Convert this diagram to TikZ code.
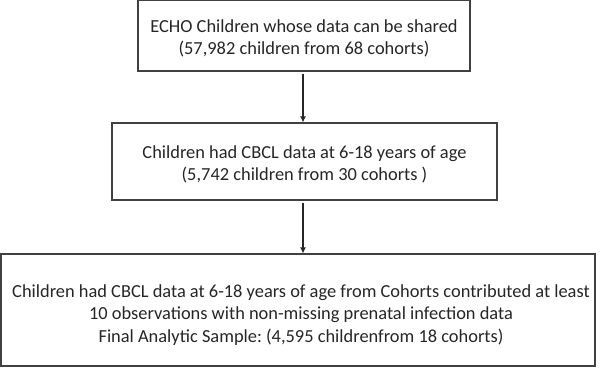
\documentclass[tikz,border=0pt]{standalone}
\usepackage{fontspec}
\setmainfont{Carlito}
\frenchspacing
\usetikzlibrary{arrows.meta}
\begin{document}
\begin{tikzpicture}[
        x=1pt, y=-1pt,
        % --- styles ---
        box/.style={draw=black!75, line width=1.1pt, fill=white},
        txt/.style={text=black!85, align=center, inner sep=0pt,
            font=\fontsize{18.4}{22.5}\selectfont},
        flow/.style={draw=black!85, line width=1.3pt, -{Latex[length=6pt,width=6pt]}}
    ]
    \useasboundingbox (0,0) rectangle (600,368);

    % boxes
    \node[box, minimum width=332pt, minimum height=71pt] (shared) at (304,35.5) {};
    \node[box, minimum width=385pt, minimum height=77pt] (cbcl) at (304.5,161.5) {};
    \node[box, minimum width=594pt, minimum height=112pt] (final) at (298,310) {};

    % texts
    \node[txt] (sharedtxt) at ([yshift=-3pt]shared.center)
        {ECHO Children whose data can be shared\\(57,982 children from 68 cohorts)};
    \node[txt] (cbcltxt) at ([yshift=-3pt]cbcl.center)
        {Children had CBCL data at 6-18 years of age\\(5,742 children from 30 cohorts )};
    \node[txt] (finaltxt) at ([xshift=3pt,yshift=-5pt]final.center)
        {Children had CBCL data at 6-18 years of age from Cohorts contributed at least\\
         10 observations with non-missing prenatal infection data\\
         Final Analytic Sample: (4,595 childrenfrom 18 cohorts)};

    % arrows
    \draw[flow] (shared.south -| 303,0) ++(0,2) coordinate (a1) -- (a1 |- cbcl.north);
    \draw[flow] (cbcl.south -| 303,0) ++(0,2) coordinate (a2) -- (a2 |- final.north);
\end{tikzpicture}
\end{document}
